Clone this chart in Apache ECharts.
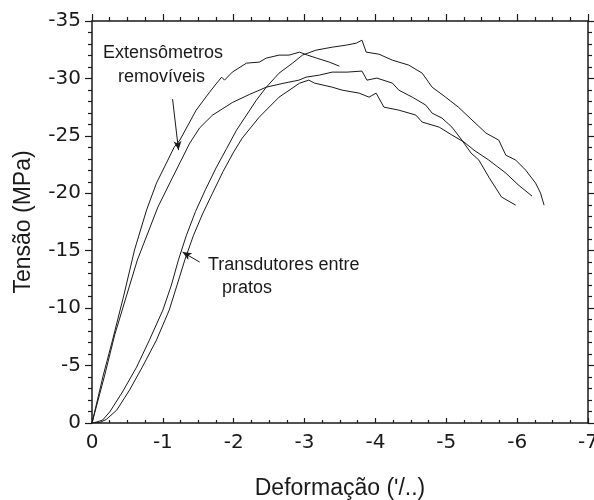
<!DOCTYPE html>
<html>
<head>
<meta charset="utf-8">
<script src="https://cdn.jsdelivr.net/npm/echarts@6/dist/echarts.min.js"></script>
<style>
  html, body { margin: 0; padding: 0; background: #fff; }
  #chart { width: 594px; height: 500px; }
</style>
</head>
<body>
<div id="chart"></div>
<script>
// Stress–strain curves (strain in ‰, stress in MPa, compression negative)

// Extensômetros removíveis — first specimen (removed before failure)
const extAStrain = [0, -0.16, -0.29, -0.45, -0.6, -0.77, -0.91, -1.05, -1.16, -1.24, -1.47, -1.66, -1.76, -1.83, -1.87, -1.98, -2.18, -2.36, -2.46, -2.64, -2.78, -2.93, -3.04, -3.17, -3.35, -3.49];
const extAStress = [0, -4.18, -7.22, -11.14, -15.06, -18.54, -20.89, -22.63, -24.02, -24.63, -27.24, -28.81, -29.59, -30.11, -29.85, -30.55, -31.33, -31.42, -31.77, -32.03, -32.03, -32.29, -32.03, -31.77, -31.42, -31.07];

// Extensômetros removíveis — second specimen
const extBStrain = [0, -0.18, -0.32, -0.49, -0.64, -0.93, -1.14, -1.38, -1.52, -1.7, -1.98, -2.22, -2.46, -2.71, -2.92, -3.02, -3.21, -3.39, -3.6, -3.81, -3.88, -4.02, -4.24, -4.33, -4.52, -4.71, -4.8, -4.94, -5.08, -5.22, -5.35, -5.46, -5.6, -5.78, -5.98];
const extBStress = [0, -4.18, -7.66, -11.14, -14.19, -18.8, -21.41, -24.37, -25.7, -26.8, -27.9, -28.6, -29.24, -29.59, -29.85, -30.11, -30.29, -30.55, -30.55, -30.64, -29.85, -30.03, -29.59, -28.98, -28.37, -27.68, -26.98, -26.54, -25.76, -24.63, -23.5, -22.89, -21.41, -19.67, -18.97];

// Transdutores entre pratos — first specimen
const trAStrain = [0, -0.07, -0.15, -0.25, -0.43, -0.63, -0.81, -1.0, -1.12, -1.22, -1.33, -1.46, -1.6, -1.75, -1.9, -2.04, -2.32, -2.46, -2.64, -2.83, -2.97, -3.16, -3.39, -3.59, -3.73, -3.81, -3.87, -4.05, -4.24, -4.47, -4.66, -4.8, -4.99, -5.17, -5.41, -5.56, -5.74, -5.84, -5.98, -6.12, -6.26, -6.33, -6.38];
const trAStress = [0, -0.09, -0.26, -0.96, -2.7, -4.87, -7.22, -9.83, -12.0, -14.2, -16.3, -18.4, -20.3, -22.2, -23.9, -25.5, -28.11, -29.24, -30.46, -31.33, -32.03, -32.46, -32.72, -32.9, -33.07, -33.33, -32.29, -32.11, -31.59, -31.16, -30.46, -29.24, -28.37, -27.5, -26.11, -25.24, -24.63, -23.32, -22.89, -22.02, -20.89, -20.02, -18.97];

// Transdutores entre pratos — second specimen
const trBStrain = [0, -0.11, -0.2, -0.35, -0.53, -0.71, -0.91, -1.09, -1.2, -1.31, -1.43, -1.56, -1.7, -1.85, -2.0, -2.12, -2.36, -2.64, -2.93, -3.06, -3.14, -3.39, -3.53, -3.77, -3.91, -4.01, -4.12, -4.33, -4.57, -4.66, -4.9, -5.08, -5.25, -5.39, -5.6, -5.84, -6.02, -6.21];
const trBStress = [0, -0.05, -0.3, -1.13, -2.87, -4.87, -7.22, -9.83, -12.0, -14.2, -16.3, -18.2, -20.0, -21.9, -23.6, -24.8, -26.63, -28.37, -29.59, -29.85, -29.59, -29.24, -28.98, -28.72, -28.37, -28.72, -27.5, -27.24, -26.81, -26.2, -25.76, -25.07, -24.46, -23.76, -22.89, -21.76, -20.71, -19.76];

// Annotation arrows: [tail, head] as [strain, stress]
const extArrow = [[-1.137, -28.2], [-1.221, -23.76]];
const trArrow = [[-1.52, -14.01], [-1.277, -14.88]];

const zip = (xs, ys) => xs.map((x, i) => [x, ys[i]]);

const FONT = '"Liberation Sans", Arial, Helvetica, sans-serif';
const TICK_FONT = '"DejaVu Sans", sans-serif';
const INK = '#1a1a1a';

const chart = echarts.init(document.getElementById('chart'), null, { renderer: 'canvas' });

const frameLine = { show: true, onZero: false, lineStyle: { color: INK, width: 1.5 } };
const tickStyle = { color: INK, width: 1.2 };

function curve(name, xs, ys) {
  return {
    name, type: 'line', xAxisIndex: 0, yAxisIndex: 0,
    data: zip(xs, ys), showSymbol: false, symbol: 'none',
    lineStyle: { color: INK, width: 1 }, silent: true
  };
}

function arrow(pts) {
  return [{ coord: pts[0], symbol: 'none' }, { coord: pts[1], symbol: 'arrow', symbolSize: [6, 9] }];
}

chart.setOption({
  animation: false,
  backgroundColor: '#fff',
  grid: { left: 92, right: 6, top: 21, bottom: 77, containLabel: false, outerBoundsMode: 'none' },
  xAxis: [
    {
      type: 'value', position: 'bottom', min: -7, max: 0, interval: 1, inverse: true,
      name: 'Deformação (ʹ/..)', nameLocation: 'middle', nameGap: 54,
      nameTextStyle: { fontFamily: FONT, fontSize: 23, color: INK },
      axisLine: frameLine,
      axisTick: { show: true, inside: true, length: 5, lineStyle: tickStyle },
      minorTick: { show: true, splitNumber: 4, length: 3, lineStyle: tickStyle },
      axisLabel: { fontFamily: TICK_FONT, fontSize: 20, color: INK, margin: 10 },
      splitLine: { show: false }
    },
    {
      type: 'value', position: 'top', min: -7, max: 0, interval: 1, inverse: true,
      axisLine: frameLine,
      axisTick: { show: true, inside: false, length: 7, lineStyle: tickStyle },
      minorTick: { show: true, splitNumber: 4, length: 4, lineStyle: tickStyle },
      axisLabel: { show: false }, splitLine: { show: false }
    }
  ],
  yAxis: [
    {
      type: 'value', position: 'left', min: -35, max: 0, interval: 5, inverse: true,
      name: 'Tensão (MPa)', nameLocation: 'middle', nameGap: 57,
      nameTextStyle: { fontFamily: FONT, fontSize: 23, color: INK },
      axisLine: frameLine,
      axisTick: { show: true, inside: false, length: 7, lineStyle: tickStyle },
      minorTick: { show: true, splitNumber: 5, length: 4, lineStyle: tickStyle },
      axisLabel: { fontFamily: TICK_FONT, fontSize: 20, color: INK, margin: 11 },
      splitLine: { show: false }
    },
    {
      type: 'value', position: 'right', min: -35, max: 0, interval: 5, inverse: true,
      axisLine: frameLine,
      axisTick: { show: true, inside: false, length: 6, lineStyle: tickStyle },
      minorTick: { show: true, splitNumber: 5, length: 4, lineStyle: tickStyle },
      axisLabel: { show: false }, splitLine: { show: false }
    }
  ],
  series: [
    curve('Extensômetros A', extAStrain, extAStress),
    curve('Extensômetros B', extBStrain, extBStress),
    curve('Transdutores A', trAStrain, trAStress),
    curve('Transdutores B', trBStrain, trBStress),
    {
      type: 'line', data: [], silent: true,
      markLine: {
        silent: true, animation: false,
        symbol: ['none', 'arrow'],
        label: { show: false },
        lineStyle: { color: INK, width: 1, type: 'solid' },
        data: [arrow(extArrow), arrow(trArrow)]
      }
    }
  ],
  graphic: [
    { type: 'text', left: 103, top: 44, style: { text: 'Extensômetros', font: '18px ' + FONT, fill: INK } },
    { type: 'text', left: 118, top: 68, style: { text: 'removíveis', font: '18px ' + FONT, fill: INK } },
    { type: 'text', left: 208, top: 256, style: { text: 'Transdutores entre', font: '18px ' + FONT, fill: INK } },
    { type: 'text', left: 222, top: 279, style: { text: 'pratos', font: '18px ' + FONT, fill: INK } }
  ]
});
</script>
</body>
</html>
